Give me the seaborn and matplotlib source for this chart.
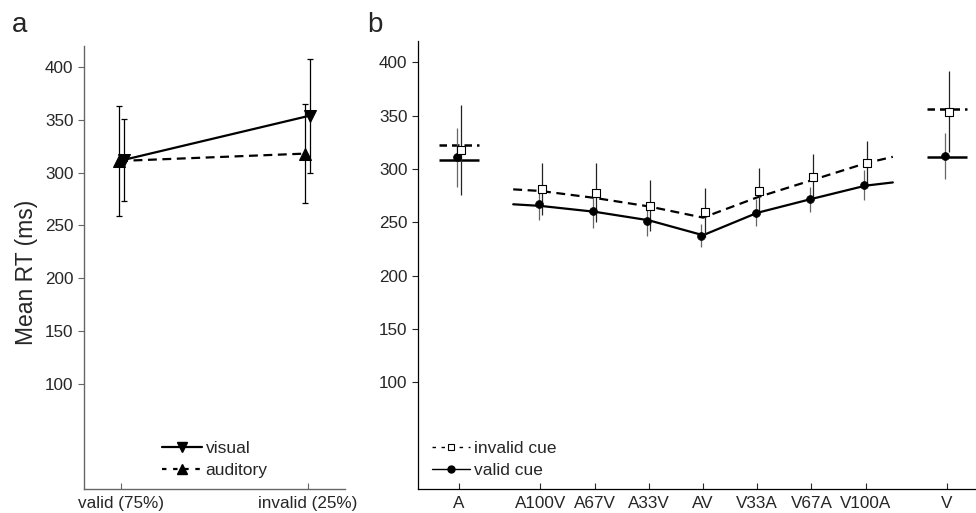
import numpy as np
import seaborn as sns
import matplotlib.pyplot as plt
from matplotlib.lines import Line2D

# panel a: cue validity x target modality
cue_labels = ['valid (75%)', 'invalid (25%)']
visual_rt = [312, 354]
visual_err = [39, 54]
auditory_rt = [311, 318]
auditory_err = [52, 47]

# panel b: conditions
conditions = ['A', 'A100V', 'A67V', 'A33V', 'AV', 'V33A', 'V67A', 'V100A', 'V']
valid_rt = [311, 267.5, 260.5, 251, 237.5, 259, 271.5, 285, 312.5]
valid_err = [28, 15.5, 15.5, 14, 11, 12.5, 12, 14, 21.5]
invalid_rt = [318, 281, 278, 265.5, 259.5, 279, 293, 305.5, 354]
invalid_err = [42, 24.5, 28, 24, 23, 22, 21, 21, 38]
# unisensory levels (A, V)
valid_uni = [309, 311.5]
invalid_uni = [322.5, 356]
# model fit over the bimodal range
fit_x = [1.0, 1.5, 2.5, 3.5, 4.5, 5.5, 6.5, 7.5, 8.0]
fit_valid = [267, 265.5, 260, 252, 238, 259, 272, 284.5, 287.5]
fit_invalid = [281, 279.5, 273, 265, 254.5, 273.5, 289.5, 305.5, 311.5]

sns.set_style('white')
plt.rcParams['font.family'] = ['Liberation Sans', 'DejaVu Sans']

fig = plt.figure(figsize=(9.76, 5.13), dpi=100)
ax_a = fig.add_axes([0.0861, 0.0468, 0.2674, 0.8635])
ax_b = fig.add_axes([0.4283, 0.0468, 0.5715, 0.873])

DASH = (0, (4, 2.5))
TICK_FS = 12.3
LEG_FS = 12.5

# ---- panel a ----
xa = np.arange(len(cue_labels))
ax_a.errorbar(xa + 0.012, visual_rt, yerr=visual_err, fmt='none', ecolor='k',
              elinewidth=0.9, capsize=2, capthick=0.9, zorder=2)
ax_a.errorbar(xa - 0.012, auditory_rt, yerr=auditory_err, fmt='none', ecolor='k',
              elinewidth=0.9, capsize=2, capthick=0.9, zorder=2)
sns.lineplot(x=xa + 0.012, y=visual_rt, ax=ax_a, color='k', lw=1.6,
             marker='v', markersize=9, markeredgecolor='k', zorder=3)
sns.lineplot(x=xa - 0.012, y=auditory_rt, ax=ax_a, color='k', lw=1.6,
             linestyle=DASH, marker='^', markersize=9, markeredgecolor='k', zorder=3)

ax_a.set_xlim(-0.2, 1.2)
ax_a.set_ylim(0, 420)
ax_a.set_xticks(xa, cue_labels, fontsize=TICK_FS)
ax_a.set_yticks(range(100, 401, 50))
ax_a.tick_params(axis='y', labelsize=TICK_FS, direction='out', length=4, width=0.8,
                 color='#666', left=True)
ax_a.tick_params(axis='x', direction='in', length=4, width=0.8, color='#666',
                 bottom=True, pad=5)
for s in ['top', 'right']:
    ax_a.spines[s].set_visible(False)
for s in ['left', 'bottom']:
    ax_a.spines[s].set_color('#666')
    ax_a.spines[s].set_linewidth(1.0)
ax_a.set_ylabel('Mean RT (ms)', fontsize=16.5)
ax_a.yaxis.set_label_coords(-0.175, 0.49)

h_a = [Line2D([], [], color='k', lw=1.6, marker='v', markersize=7),
       Line2D([], [], color='k', lw=1.6, linestyle=(0, (2, 3)), marker='^', markersize=7)]
ax_a.legend(h_a, ['visual', 'auditory'], loc='lower left', bbox_to_anchor=(0.3, 0.025),
            frameon=False, fontsize=LEG_FS, handlelength=2.3, handletextpad=0.2,
            borderpad=0, borderaxespad=0, labelspacing=0.4)

# ---- panel b ----
cat_pos = np.r_[0, np.arange(1.5, 8, 1.0), 9]
uni_pos = cat_pos[[0, -1]]

sns.lineplot(x=fit_x, y=fit_valid, ax=ax_b, color='k', lw=1.6, zorder=2)
sns.lineplot(x=fit_x, y=fit_invalid, ax=ax_b, color='k', lw=1.6, linestyle=DASH, zorder=2)
ax_b.hlines(valid_uni, uni_pos - 0.37, uni_pos + 0.37, color='k', lw=1.8, zorder=2)
ax_b.hlines(invalid_uni, uni_pos - 0.37, uni_pos + 0.37, color='k', lw=1.8,
            linestyles=[(0, (3, 2))], zorder=2)

ax_b.errorbar(cat_pos - 0.03, valid_rt, yerr=valid_err, fmt='none', ecolor='#666',
              elinewidth=0.9, zorder=2.5)
ax_b.errorbar(cat_pos + 0.03, invalid_rt, yerr=invalid_err, fmt='none', ecolor='#222',
              elinewidth=0.9, zorder=2.5)
sns.scatterplot(x=cat_pos - 0.03, y=valid_rt, ax=ax_b, marker='o', s=32, color='k',
                edgecolor='k', linewidth=0.5, zorder=3)
sns.scatterplot(x=cat_pos + 0.03, y=invalid_rt, ax=ax_b, marker='s', s=30,
                facecolor='white', edgecolor='k', linewidth=0.8, zorder=3)

ax_b.set_xlim(-0.755, 9.53)
ax_b.set_ylim(0, 420)
ax_b.set_xticks(cat_pos, conditions, fontsize=TICK_FS)
ax_b.set_yticks(range(100, 401, 50))
ax_b.tick_params(axis='y', labelsize=TICK_FS, direction='out', length=4, width=0.8, left=True)
ax_b.tick_params(axis='x', direction='in', length=4, width=0.8, bottom=True, pad=5)
for s in ['top', 'right']:
    ax_b.spines[s].set_visible(False)
for s in ['left', 'bottom']:
    ax_b.spines[s].set_color('k')
    ax_b.spines[s].set_linewidth(0.9)

h_b = [Line2D([], [], color='k', lw=1.0, linestyle=(0, (2.5, 4)), marker='s', markersize=4,
              markerfacecolor='white', markeredgewidth=0.8),
       Line2D([], [], color='k', lw=1.0, marker='o', markersize=5)]
ax_b.legend(h_b, ['invalid cue', 'valid cue'], loc='lower left', bbox_to_anchor=(0.025, 0.025),
            frameon=False, fontsize=LEG_FS, handlelength=2.2, handletextpad=0.2,
            borderpad=0, borderaxespad=0, labelspacing=0.4)

fig.text(0.012, 0.951, 'a', fontsize=20, va='center', ha='left')
fig.text(0.376, 0.951, 'b', fontsize=20, va='center', ha='left')

fig.savefig('out.png', dpi=100)
